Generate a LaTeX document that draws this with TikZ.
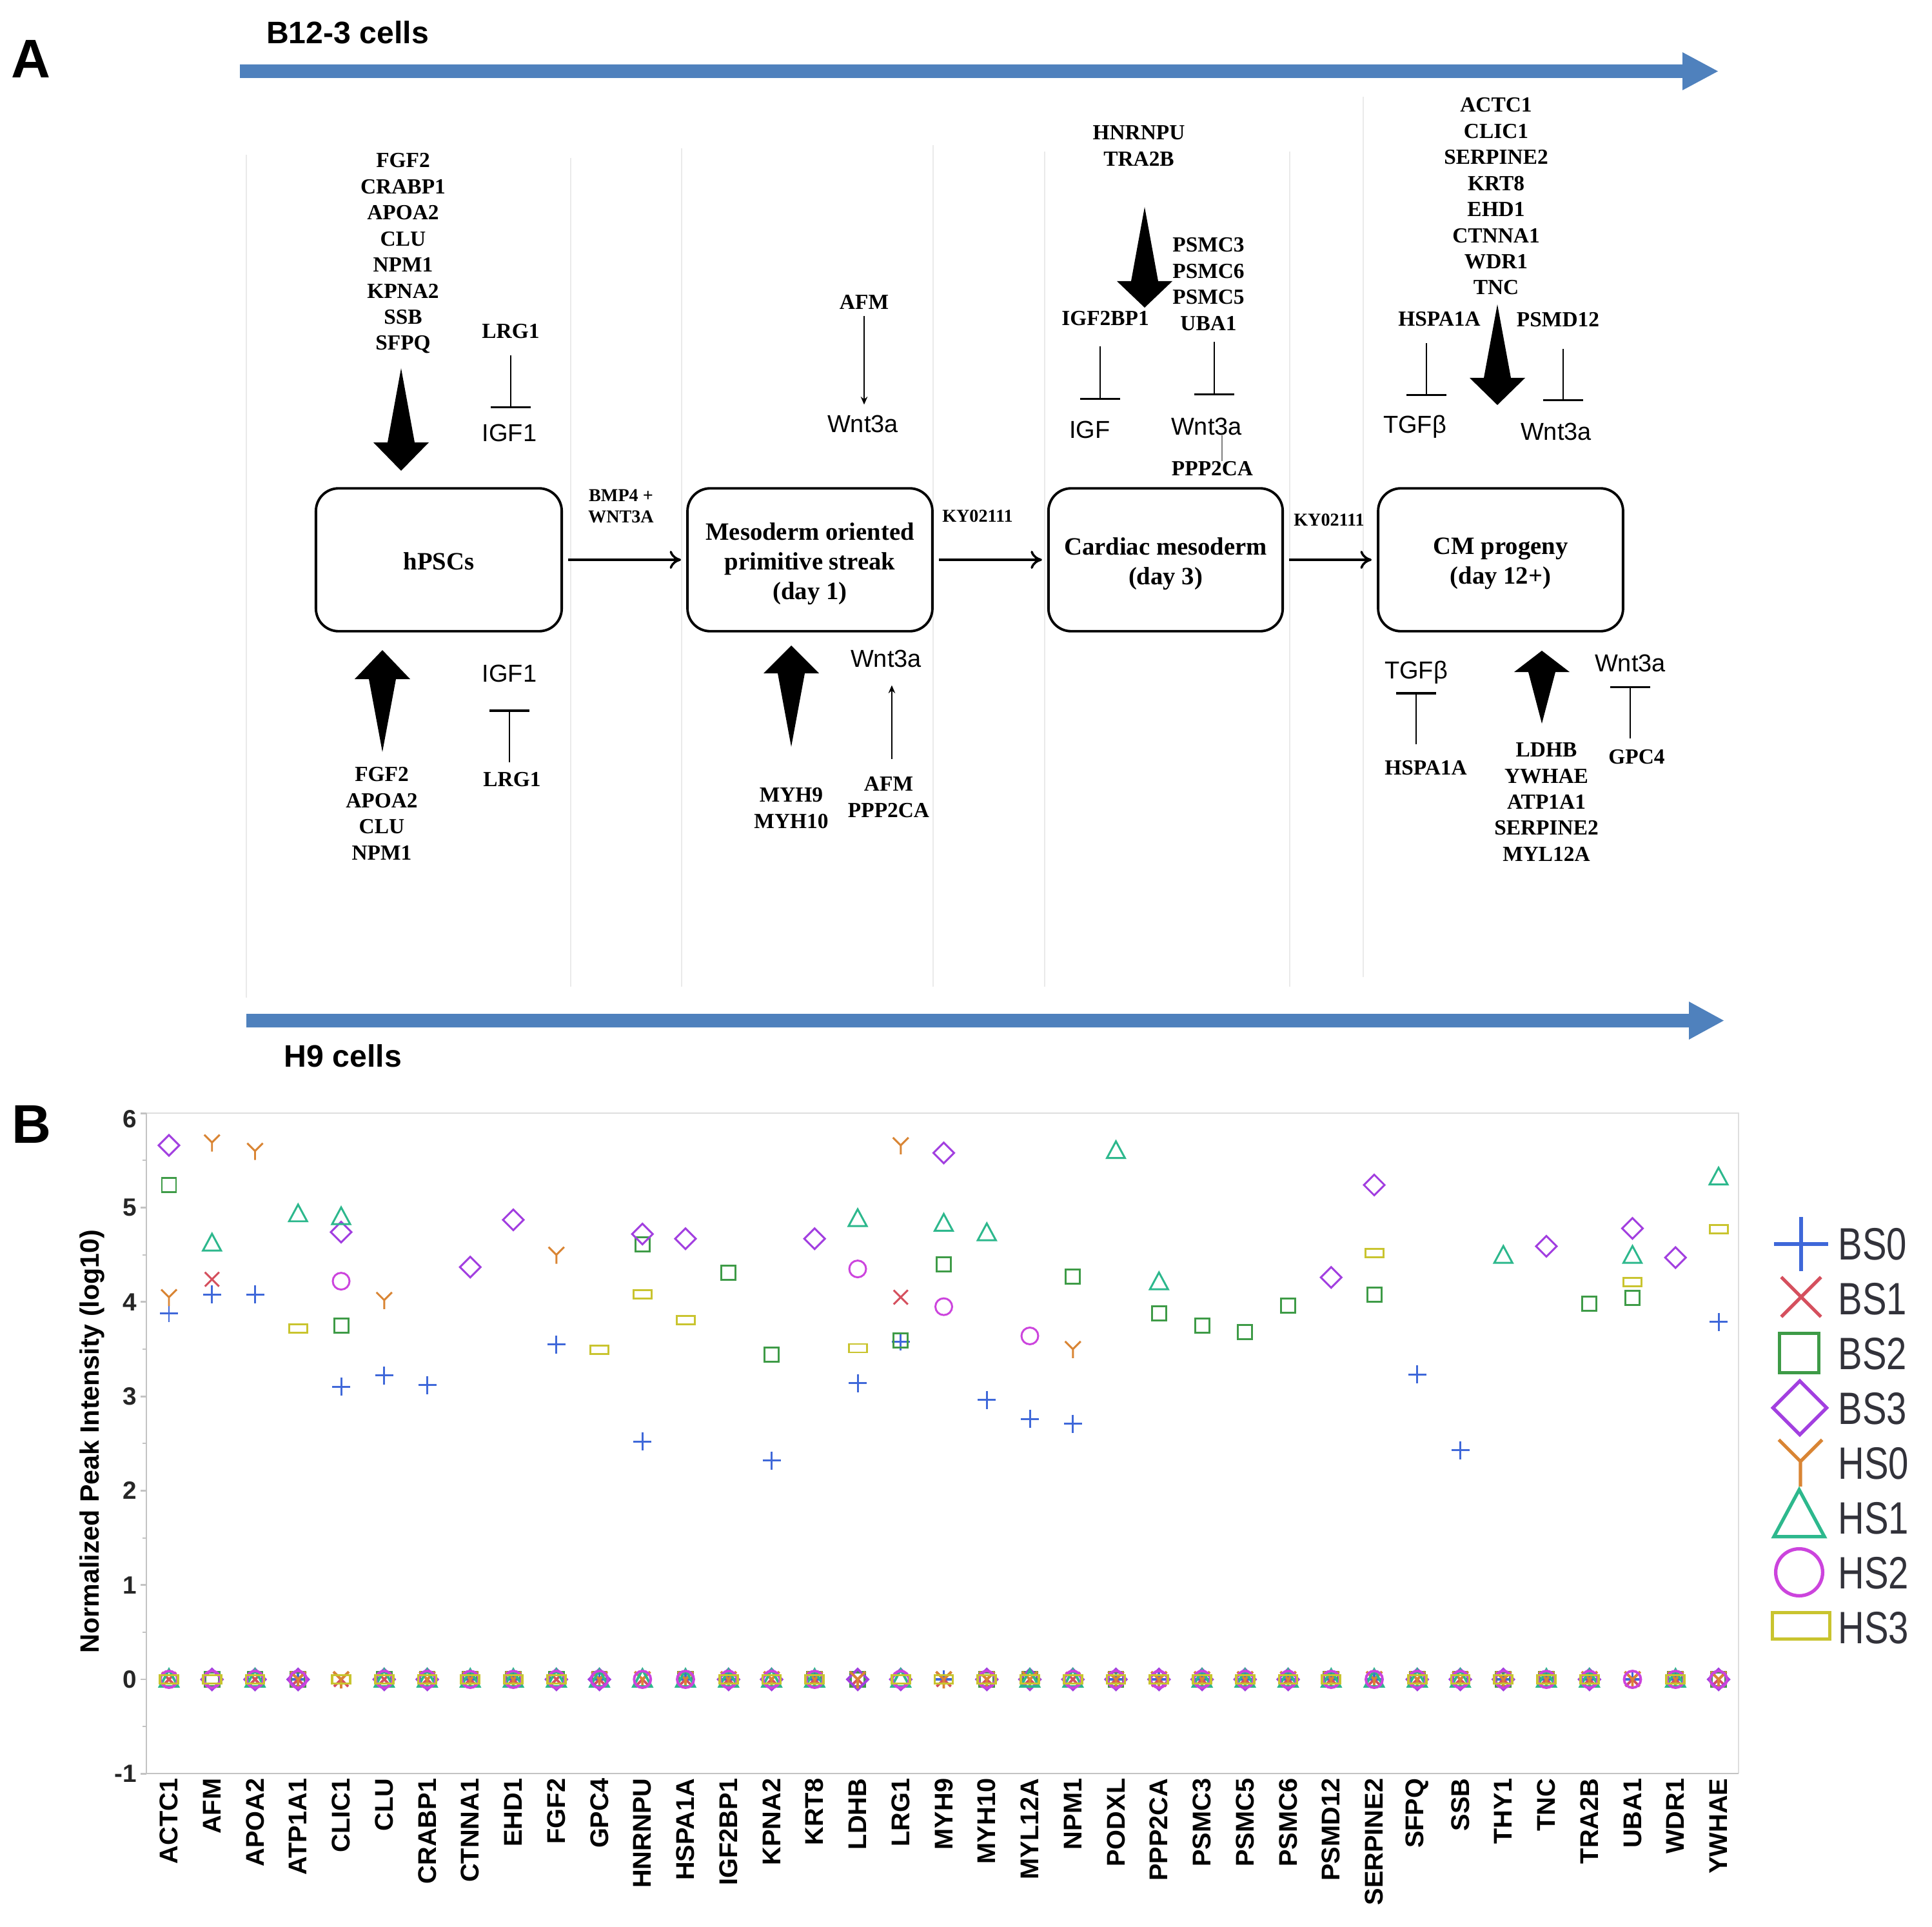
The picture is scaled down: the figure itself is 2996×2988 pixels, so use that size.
\documentclass[tikz,border=0pt]{standalone}
\usepackage{fontspec}
\setmainfont{Liberation Serif}
\setsansfont{Liberation Sans}
\newfontfamily\legfont[FakeStretch=0.8]{Liberation Sans}
\usetikzlibrary{arrows.meta,calc}
\definecolor{bandblue}{RGB}{79,129,189}
\definecolor{cBSzero}{RGB}{63,104,217}
\definecolor{cBSone}{RGB}{213,80,94}
\definecolor{cBStwo}{RGB}{62,155,71}
\definecolor{cBSthree}{RGB}{162,63,224}
\definecolor{cHSzero}{RGB}{217,133,52}
\definecolor{cHSone}{RGB}{45,184,141}
\definecolor{cHStwo}{RGB}{204,68,221}
\definecolor{cHSthree}{RGB}{201,196,47}
\definecolor{colline}{RGB}{234,234,234}
\definecolor{axgray}{RGB}{195,195,195}
\definecolor{legtext}{RGB}{50,50,58}
\tikzset{
  mk/.style={line width=0.85pt},
  pics/mP/.style={code={\draw[mk,cBSzero] (-14,0)--(14,0) (0,-14)--(0,14);}},
  pics/mX/.style={code={\draw[mk,cBSone] (-11,-11)--(11,11) (-11,11)--(11,-11);}},
  pics/mS/.style={code={\draw[mk,cBStwo] (-11,-11) rectangle (11,11);}},
  pics/mD/.style={code={\draw[mk,cBSthree] (-16,0)--(0,-16)--(16,0)--(0,16)--cycle;}},
  pics/mY/.style={code={\draw[mk,cHSzero] (0,14)--(0,0)--(-12,-12) (0,0)--(12,-12);}},
  pics/mT/.style={code={\draw[mk,cHSone] (-14,11)--(0,-15)--(14,11)--cycle;}},
  pics/mC/.style={code={\draw[mk,cHStwo] (0,0) circle (13);}},
  pics/mR/.style={code={\draw[mk,cHSthree] (-14,-6.5) rectangle (14,6.5);}},
  pics/bigdown/.style 2 args={code={\fill (0,0) -- (-43,-#1) -- (-21,-#1) -- (0,{-#1-#2}) -- (21,-#1) -- (43,-#1) -- cycle;}},
  pics/bigup/.style 2 args={code={\fill (0,0) -- (-43,#1) -- (-21,#1) -- (0,{#1+#2}) -- (21,#1) -- (43,#1) -- cycle;}},
}
\begin{document}
\begin{tikzpicture}[x=0.01cm,y=-0.01cm,
  gene/.style={font=\fontsize{9.5}{11.5}\selectfont\bfseries, inner sep=0pt, align=center},
  smalllab/.style={font=\fontsize{8}{9.4}\selectfont\bfseries, inner sep=0pt, align=center},
  sig/.style={font=\sffamily\fontsize{10.8}{13}\selectfont, inner sep=0pt},
  celltitle/.style={font=\sffamily\bfseries\fontsize{13.7}{16}\selectfont, inner sep=0pt},
  panel/.style={font=\sffamily\bfseries\fontsize{24}{28}\selectfont, inner sep=0pt},
  stage/.style={draw, line width=1.1pt, rounded corners=10pt, minimum height=63pt, inner sep=0pt},
  stagetext/.style={align=center, inner sep=0pt, font=\fontsize{11}{13.1}\selectfont\bfseries},
  flow/.style={line width=1pt, -{To[length=5pt,width=8pt]}, shorten <=2.3pt, shorten >=2.3pt},
  inh/.style={line width=0.75pt, -{Bar[width=17.5pt,line width=0.9pt]}},
  act/.style={line width=0.6pt, -{Stealth[length=3.5pt,width=3pt]}},
  colsep/.style={draw=colline, line width=0.6pt},
  xtl/.style={font=\sffamily\bfseries\fontsize{11.3}{13}\selectfont, inner sep=0pt, rotate=90, anchor=east},
  ytl/.style={font=\sffamily\bfseries\fontsize{11}{13}\selectfont, inner sep=0pt, anchor=east, text=black!85},
  legtxt/.style={font=\legfont\fontsize{20}{24}\selectfont, inner sep=0pt, anchor=west, text=legtext},
]
\useasboundingbox (0,0) rectangle (2996,2988);
\fill[white] (0,0) rectangle (2996,2988);

% ---------------- panel A ----------------
% faint column separators
\foreach \xx/\ya/\yb in {382/240/1547, 885/245/1530, 1057/230/1530, 1447/225/1530, 1620/235/1530, 2000/235/1530, 2114/150/1515}
  \draw[colsep] (\xx,\ya) -- (\xx,\yb);

% blue timeline arrows
\fill[bandblue] (372,100) -- (2609,100) -- (2609,81) -- (2664,110.5) -- (2609,140) -- (2609,121) -- (372,121) -- cycle;
\fill[bandblue] (382,1572) -- (2619,1572) -- (2619,1553) -- (2673,1582.5) -- (2619,1612) -- (2619,1593) -- (382,1593) -- cycle;
\node[celltitle] (tB12) at (539,50) {B12-3 cells};
\node[celltitle] (tH9) at (532,1637) {H9 cells};
\node[panel] (labA) at (48,91) {A};

% stage boxes
\node[stage, minimum width=108.4pt] (hpsc) at (680.5,868) {};
\node[stage, minimum width=108pt] (meso) at (1256,868) {};
\node[stage, minimum width=103.3pt] (card) at (1807.5,868) {};
\node[stage, minimum width=108pt] (cm) at (2327,868) {};
\node[stagetext] (hpscT) at (680.5,870) {hPSCs};
\node[stagetext] (mesoT) at (1256,874) {Mesoderm oriented\\primitive streak\\(day 1)};
\node[stagetext] (cardT) at (1807.5,874) {Cardiac mesoderm\\(day 3)};
\node[stagetext] (cmT) at (2327,874) {CM progeny\\(day 12+)};

\node[smalllab, anchor=north] (bmp) at (963,758) {BMP4 +\\WNT3A};
\node[smalllab] (kyA) at (1516,800) {KY02111};
\node[smalllab] (kyB) at (2061,806) {KY02111};
\draw[flow] (hpsc.east) -- (meso.west);
\draw[flow] (meso.east) -- (card.west);
\draw[flow] (card.east) -- (cm.west);

% hPSCs column
\node[gene, anchor=north] (gA1) at (625,237) {FGF2\\CRABP1\\APOA2\\CLU\\NPM1\\KPNA2\\SSB\\SFPQ};
\pic at (622,730) {bigdown={44}{115}};
\node[gene] (lrgT) at (792,514) {LRG1};
\node[sig] (igfT) at (790,671) {IGF1};
\draw[inh, shorten <=7pt, shorten >=6.8pt] (lrgT.south) -- (lrgT.south |- igfT.north);
\pic at (593,1008) {bigup={45}{113}};
\node[gene, anchor=north] (gA2) at (592,1189) {FGF2\\APOA2\\CLU\\NPM1};
\node[sig] (igfB) at (790,1044) {IGF1};
\node[gene] (lrgB) at (794,1209) {LRG1};
\draw[inh, shorten <=4.3pt, shorten >=12pt] (igfB.south |- lrgB.north) -- (igfB.south);

% mesoderm column
\node[gene] (afmT) at (1340,468) {AFM};
\node[sig] (wntM) at (1338,657) {Wnt3a};
\draw[act, shorten <=3pt, shorten >=4.4pt] (afmT.south) -- (afmT.south |- wntM.north);
\pic at (1227,1001) {bigup={43}{114}};
\node[gene, anchor=north] (gM2) at (1227,1221) {MYH9\\MYH10};
\node[gene, anchor=north] (gM3) at (1378,1204) {AFM\\PPP2CA};
\node[sig] (wntMB) at (1374,1021) {Wnt3a};
\draw[act, shorten <=7.7pt, shorten >=7.8pt] ([xshift=1.4pt]gM3.north) -- ([xshift=1.4pt]gM3.north |- wntMB.south);

% cardiac column
\node[gene, anchor=north] (gC1) at (1766,194) {HNRNPU\\TRA2B};
\pic at (1775,477) {bigdown={41}{115}};
\node[gene, anchor=north] (gC2) at (1874,368) {PSMC3\\PSMC6\\PSMC5\\UBA1};
\node[gene] (igf2) at (1714,494) {IGF2BP1};
\node[sig] (igfC) at (1690,666) {IGF};
\node[sig] (wntC) at (1871,661) {Wnt3a};
\node[gene] (ppp) at (1880,727) {PPP2CA};
\draw[inh, shorten <=8.8pt, shorten >=9pt] ([xshift=-2.3pt]igf2.south) -- ([xshift=-2.3pt]igf2.south |- igfC.north);
\draw[inh, shorten <=4.8pt, shorten >=9.5pt] ([xshift=2.6pt]gC2.south) -- ([xshift=2.6pt]gC2.south |- wntC.north);
\draw[gray, line width=0.5pt] ([xshift=6.8pt]wntC.south) -- ([xshift=6.8pt]wntC.south |- ppp.north);

% CM column
\node[gene, anchor=north] (gCM1) at (2320,151) {ACTC1\\CLIC1\\SERPINE2\\KRT8\\EHD1\\CTNNA1\\WDR1\\TNC};
\pic at (2322,628) {bigdown={42}{114}};
\node[gene] (hspT) at (2232,495) {HSPA1A};
\node[gene] (psmd) at (2416,496) {PSMD12};
\node[sig] (tgfT) at (2194,662) {TGFβ};
\node[sig] (wntCM) at (2413,669) {Wnt3a};
\draw[inh, shorten <=7.1pt, shorten >=8.5pt] ([xshift=-5.7pt]hspT.south) -- ([xshift=-5.7pt]hspT.south |- tgfT.north);
\draw[inh, shorten <=9.4pt, shorten >=9.2pt] ([xshift=2.3pt]psmd.south) -- ([xshift=2.3pt]psmd.south |- wntCM.north);
\node[sig] (tgfB) at (2196,1043) {TGFβ};
\node[gene] (hspB) at (2211,1191) {HSPA1A};
\draw[inh, shorten <=7.1pt, shorten >=3.4pt] (tgfB.south |- hspB.north) -- (tgfB.south);
\pic at (2391,1009) {bigup={33}{80}};
\node[gene, anchor=north] (gCM2) at (2398,1151) {LDHB\\YWHAE\\ATP1A1\\SERPINE2\\MYL12A};
\node[sig] (wntCMB) at (2528,1028) {Wnt3a};
\node[gene] (gpc) at (2538,1174) {GPC4};
\draw[inh, shorten <=4.8pt, shorten >=6.1pt] (wntCMB.south |- gpc.north) -- (wntCMB.south);

% ---------------- panel B ----------------
\node[panel] (labB) at (49,1743) {B};
\draw[axgray!55, line width=0.7pt] (227,1726) -- (2696,1726) -- (2696,2750);
\draw[axgray, line width=0.8pt] (227,1726) -- (227,2750) -- (2696,2750);
\foreach \v in {-1,...,6} \draw[axgray, line width=0.8pt] (227,{2604-146.3*\v}) -- ++(-9,0);
\foreach \v in {-0.5,0.5,...,5.5} \draw[axgray, line width=0.6pt] (227,{2604-146.3*\v}) -- ++(-6,0);
\node[ytl] (y6) at (213,1735) {6};
\foreach \v in {5,4,3,2,1,0,-1} \node[ytl] (y\v) at (213,{2604-146.3*\v}) {\v};
\node[font=\sffamily\bfseries\fontsize{11.7}{14}\selectfont, inner sep=0pt, rotate=90] (ytitle) at (143,2235) {Normalized Peak Intensity (log10)};
\foreach \n [count=\i] in {ACTC1,AFM,APOA2,ATP1A1,CLIC1,CLU,CRABP1,CTNNA1,EHD1,FGF2,GPC4,HNRNPU,HSPA1A,IGF2BP1,KPNA2,KRT8,LDHB,LRG1,MYH9,MYH10,MYL12A,NPM1,PODXL,PPP2CA,PSMC3,PSMC5,PSMC6,PSMD12,SERPINE2,SFPQ,SSB,THY1,TNC,TRA2B,UBA1,WDR1,YWHAE}
  \node[xtl] (xl\i) at ({262+66.75*(\i-1)},2757) {\n};

% zero-valued points
\begin{scope}[mk/.style={line width=1.1pt}]
\foreach \i in {4,8,9,11,13,14,16,19,23,24,25,26,27,28,29,32,33,34,35,36} \pic at ({262+66.75*(\i-1)},2604) {mP};
\foreach \i in {1,3,4,5,6,7,8,9,10,11,12,13,14,15,16,17,19,20,21,22,23,24,25,26,27,28,29,30,31,32,33,34,35,36,37} \pic at ({262+66.75*(\i-1)},2604) {mX};
\foreach \i in {2,3,4,6,7,8,9,10,11,13,16,17,20,21,23,28,30,31,32,33,36,37} \pic at ({262+66.75*(\i-1)},2604) {mS};
\foreach \i in {2,3,4,6,7,10,11,14,15,17,18,20,21,22,23,24,25,26,27,30,31,32,34,37} \pic at ({262+66.75*(\i-1)},2604) {mD};
\foreach \i in {4,5,7,8,9,11,12,13,14,15,16,17,19,20,21,23,24,25,26,27,28,29,30,31,32,33,34,35,36,37} \pic at ({262+66.75*(\i-1)},2604) {mY};
\foreach \i in {1,3,6,7,8,9,10,11,12,13,14,15,16,18,21,22,25,26,27,28,29,30,31,33,34,36} \pic at ({262+66.75*(\i-1)},2604) {mT};
\foreach \i in {1,2,3,4,6,7,8,9,10,11,12,13,14,15,16,18,20,22,23,24,25,26,27,28,29,30,31,32,33,34,35,36,37} \pic at ({262+66.75*(\i-1)},2604) {mC};
\foreach \i in {1,2,3,5,6,7,8,9,10,14,15,16,18,19,20,21,22,23,24,25,26,27,28,30,31,32,33,34,36} \pic at ({262+66.75*(\i-1)},2604) {mR};
\end{scope}

% non-zero points
\foreach \i/\v in {1/3.88,2/4.08,3/4.08,5/3.10,6/3.22,7/3.12,10/3.55,12/2.52,15/2.32,17/3.14,18/3.58,20/2.96,21/2.76,22/2.71,30/3.23,31/2.43,37/3.79}
  \pic at ({262+66.75*(\i-1)},{2604-146.3*\v}) {mP};
\foreach \i/\v in {2/4.24,18/4.05}
  \pic at ({262+66.75*(\i-1)},{2604-146.3*\v}) {mX};
\foreach \i/\v in {1/5.24,5/3.75,12/4.61,14/4.31,15/3.44,18/3.59,19/4.40,22/4.27,24/3.88,25/3.75,26/3.68,27/3.96,29/4.08,34/3.98,35/4.04}
  \pic at ({262+66.75*(\i-1)},{2604-146.3*\v}) {mS};
\foreach \i/\v in {1/5.66,5/4.74,8/4.37,9/4.87,12/4.72,13/4.67,16/4.67,19/5.58,28/4.26,29/5.24,33/4.59,35/4.78,36/4.47}
  \pic at ({262+66.75*(\i-1)},{2604-146.3*\v}) {mD};
\foreach \i/\v in {1/4.05,2/5.69,3/5.60,6/4.02,10/4.50,18/5.66,22/3.50}
  \pic at ({262+66.75*(\i-1)},{2604-146.3*\v}) {mY};
\foreach \i/\v in {2/4.62,4/4.93,5/4.90,17/4.88,19/4.83,20/4.73,23/5.60,24/4.21,32/4.49,35/4.49,37/5.32}
  \pic at ({262+66.75*(\i-1)},{2604-146.3*\v}) {mT};
\foreach \i/\v in {5/4.22,17/4.35,19/3.95,21/3.64}
  \pic at ({262+66.75*(\i-1)},{2604-146.3*\v}) {mC};
\foreach \i/\v in {4/3.72,11/3.49,12/4.08,13/3.81,17/3.51,29/4.52,35/4.21,37/4.77}
  \pic at ({262+66.75*(\i-1)},{2604-146.3*\v}) {mR};

% legend
\begin{scope}[mk/.style={line width=1.5pt}]
\pic[scale=3.0] at (2793,1929) {mP};
\pic[scale=2.8] at (2793,2011) {mX};
\pic[scale=2.8] at (2790,2098) {mS};
\pic[scale=2.6] at (2791,2183) {mD};
\pic[scale=2.8] at (2792,2266) {mY};
\pic[scale=2.8] at (2790,2352) {mT};
\pic[scale=2.8] at (2790,2438) {mC};
\pic[scale=3.2] at (2793,2521) {mR};
\end{scope}
\foreach \t [count=\k from 0] in {BS0,BS1,BS2,BS3,HS0,HS1,HS2,HS3}
  \node[legtxt] (leg\k) at (2850,{1929+85*\k}) {\t};
\end{tikzpicture}
\end{document}
